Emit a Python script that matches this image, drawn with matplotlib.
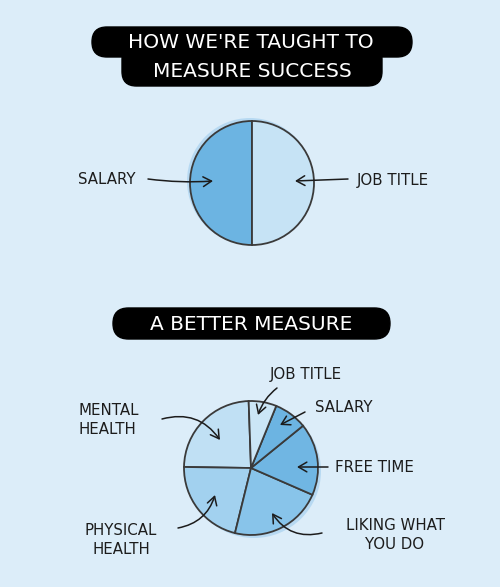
import matplotlib
matplotlib.use("Agg")
import matplotlib.pyplot as plt
from matplotlib.patches import FancyBboxPatch, Circle

W, H = 500, 587

# how we're taught to measure success
top_labels = ["SALARY", "JOB TITLE"]
top_values = [50, 50]
top_colors = ["#6cb4e2", "#c6e3f5"]

# a better measure
bottom_labels = ["MENTAL\nHEALTH", "PHYSICAL\nHEALTH", "LIKING WHAT\nYOU DO",
                 "FREE TIME", "SALARY", "JOB TITLE"]
bottom_values = [24.2, 21.4, 22.3, 17.4, 8.0, 6.7]
bottom_colors = ["#c0e0f4", "#a2d1ef", "#88c4ea", "#70b6e3", "#6cb4e2", "#cbe6f6"]

titles = ["HOW WE'RE TAUGHT TO", "MEASURE SUCCESS", "A BETTER MEASURE"]

BG = "#dcedf9"
INK = "#1c1c1c"
EDGE = "#3a3a3a"


def Y(y):
    # pixel row (from top) -> data y
    return H - y


fig = plt.figure(figsize=(W / 100, H / 100), dpi=100, facecolor=BG)
ax = fig.add_axes([0, 0, 1, 1])
ax.set_facecolor(BG)


def pill(x0, x1, y0, y1, r):
    p = FancyBboxPatch((x0, Y(y1)), x1 - x0, y1 - y0,
                       boxstyle="round,pad=0,rounding_size=%f" % r,
                       fc="black", ec="black", lw=1, zorder=2)
    ax.add_patch(p)


# second line's pill tucks under the first so they join
pill(122, 382, 45, 86, 14.5)
pill(92, 412, 27, 57, 15)
pill(113, 390, 308, 339, 15.5)
title_font = dict(color="white", fontsize=14.5, ha="center", va="center", zorder=3)
ax.text(251, Y(42), titles[0], **title_font)
ax.text(252, Y(71.5), titles[1], **title_font)
ax.text(251, Y(324), titles[2], **title_font)

wp = dict(edgecolor=EDGE, linewidth=1.3)

# soft blue shadows behind the pies
ax.add_patch(Circle((250, Y(181)), 63, fc="#9fcdee", ec="none", alpha=0.6, zorder=1))
ax.add_patch(Circle((254, Y(471)), 67, fc="#9fcdee", ec="none", alpha=0.6, zorder=1))

ax.pie(top_values, colors=top_colors, startangle=90, counterclock=True,
       center=(252, Y(183)), radius=62, wedgeprops=wp)
ax.pie(bottom_values, colors=bottom_colors, startangle=92, counterclock=True,
       center=(251, Y(468)), radius=67, wedgeprops=wp)

lab = dict(color=INK, fontsize=10.8, va="center", linespacing=1.35)
arrow = dict(arrowstyle="->,head_length=0.6,head_width=0.35", color=INK, lw=1.1,
             shrinkA=0, shrinkB=0)

# top chart labels
ax.text(78, Y(180), top_labels[0], ha="left", **lab)
ax.text(357, Y(180), top_labels[1], ha="left", **lab)
ax.annotate("", xy=(213, Y(181)), xytext=(148, Y(179)),
            arrowprops=dict(connectionstyle="arc3,rad=0.05", **arrow))
ax.annotate("", xy=(295, Y(181)), xytext=(348, Y(179)),
            arrowprops=dict(connectionstyle="arc3,rad=0.0", **arrow))

# bottom chart labels
ax.text(78, Y(420), bottom_labels[0], ha="left", multialignment="left", **lab)
ax.text(121, Y(540), bottom_labels[1], ha="center", multialignment="center", **lab)
ax.text(395, Y(535), bottom_labels[2], ha="center", multialignment="center", **lab)
ax.text(335, Y(467), bottom_labels[3], ha="left", **lab)
ax.text(315, Y(408), bottom_labels[4], ha="left", **lab)
ax.text(270, Y(375), bottom_labels[5], ha="left", **lab)

ax.annotate("", xy=(220, Y(440)), xytext=(162, Y(419)),
            arrowprops=dict(connectionstyle="arc3,rad=-0.35", **arrow))
ax.annotate("", xy=(215, Y(495)), xytext=(178, Y(528)),
            arrowprops=dict(connectionstyle="arc3,rad=0.3", **arrow))
ax.annotate("", xy=(272, Y(513)), xytext=(322, Y(533)),
            arrowprops=dict(connectionstyle="arc3,rad=-0.35", **arrow))
ax.annotate("", xy=(297, Y(467)), xytext=(328, Y(467)),
            arrowprops=dict(connectionstyle="arc3,rad=0.0", **arrow))
ax.annotate("", xy=(280, Y(425)), xytext=(305, Y(412)),
            arrowprops=dict(connectionstyle="arc3,rad=0.0", **arrow))
ax.annotate("", xy=(258, Y(415)), xytext=(277, Y(388)),
            arrowprops=dict(connectionstyle="arc3,rad=0.15", **arrow))

ax.set_xlim(0, W)
ax.set_ylim(0, H)
ax.set_aspect("equal")
ax.axis("off")

fig.savefig("out.png", dpi=100, facecolor=BG)
